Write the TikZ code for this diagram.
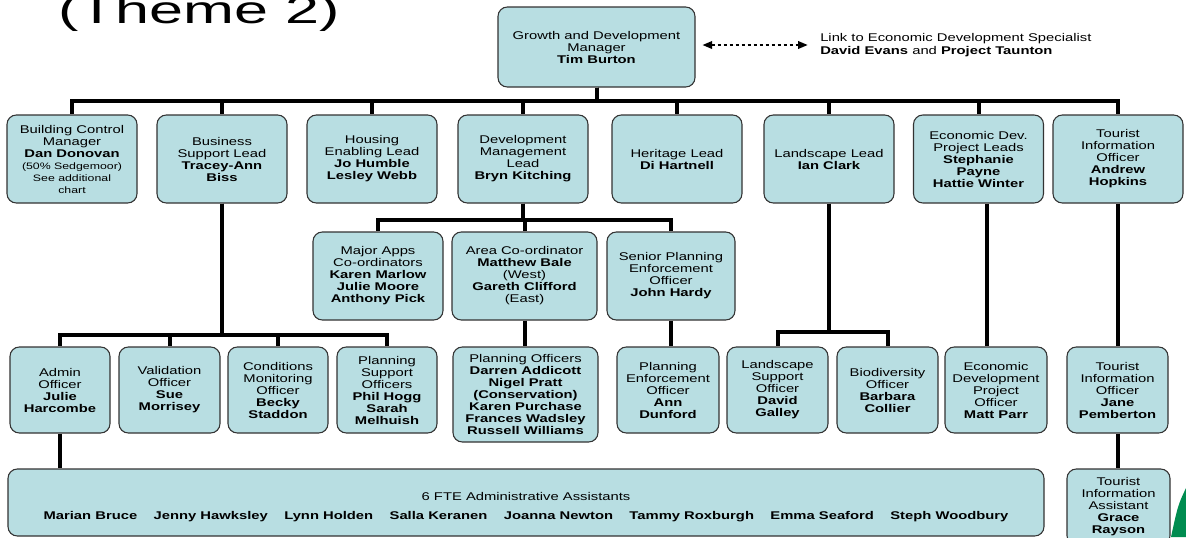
\documentclass[tikz,border=0pt]{standalone}
\usepackage{fontspec}
\setmainfont{Liberation Sans}
\newfontfamily\chartfont{Liberation Sans}[FakeStretch=1.32]
\newfontfamily\titlefont{Liberation Sans}[FakeStretch=1.58]
\usepackage{tikz}
\usetikzlibrary{arrows.meta, positioning}
\definecolor{boxfill}{RGB}{184,222,226}
\definecolor{logogreen}{RGB}{0,140,80}
\newcommand\smalltxt[1]{{\fontsize{7}{8}\selectfont #1}}

\begin{document}
\begin{tikzpicture}[x=0.75pt,y=-0.75pt,
        box/.style={draw=black!80,fill=boxfill,rounded corners=7pt,line width=0.8pt,
                    align=center,inner sep=1pt,font=\chartfont\fontsize{8.4}{9}\selectfont},
        boxw/.style={minimum width=#1*0.75pt},
        boxh/.style={minimum height=#1*0.75pt},
        lead/.style={box,boxw=130,boxh=88},
        team/.style={box,boxw=101,boxh=86},
        link/.style={line width=3pt},
        dotlink/.style={{Triangle[length=7.5pt,width=5.5pt]}-{Triangle[length=7.5pt,width=5.5pt]},
                    line width=2.2pt,dash pattern=on 2.5pt off 2pt}]

    \useasboundingbox (0,0) rectangle (1186,537);

    \node[anchor=base west,inner sep=0pt,font=\titlefont\fontsize{29}{30}\selectfont] (title) at (58,23) {(Theme 2)};

    % manager
    \node[box,boxw=197,boxh=80] (mgr) at (596.5,47) {Growth and Development\\Manager\\\textbf{Tim Burton}};
    \node[anchor=west,inner sep=0pt,align=left,font=\chartfont\fontsize{8.4}{10}\selectfont] (linktxt) at (820,45)
        {Link to Economic Development Specialist\\\textbf{David Evans} and \textbf{Project Taunton}};
    \draw[dotlink,shorten <=5pt,shorten >=9pt] (mgr.east |- linktxt.west) -- (linktxt.west);

    % leads
    \node[lead] (bcm) at (72,159) {Building Control\\Manager\\\textbf{Dan Donovan}\\\smalltxt{(50\% Sedgemoor)}\\\smalltxt{See additional}\\\smalltxt{chart}};
    \node[lead] (bsl) at (222,159) {Business\\Support Lead\\\textbf{Tracey-Ann}\\\textbf{Biss}};
    \node[lead] (hel) at (372,159) {Housing\\Enabling Lead\\\textbf{Jo Humble}\\\textbf{Lesley Webb}};
    \node[lead] (dml) at (523,159) {Development\\Management\\Lead\\\textbf{Bryn Kitching}};
    \node[lead] (hrl) at (677,159) {Heritage Lead\\\textbf{Di Hartnell}};
    \node[lead] (lsl) at (829,159) {Landscape Lead\\\textbf{Ian Clark}};
    \node[lead] (edl) at (978.5,159) {Economic Dev.\\Project Leads\\\textbf{Stephanie}\\\textbf{Payne}\\\textbf{Hattie Winter}};
    \node[lead] (tio) at (1118,159) {Tourist\\Information\\Officer\\\textbf{Andrew}\\\textbf{Hopkins}};

    % development management
    \node[lead] (mac) at (378,276) {Major Apps\\Co-ordinators\\\textbf{Karen Marlow}\\\textbf{Julie Moore}\\\textbf{Anthony Pick}};
    \node[lead,boxw=145] (aco) at (524.5,276) {Area Co-ordinator\\\textbf{Matthew Bale}\\(West)\\\textbf{Gareth Clifford}\\(East)};
    \node[lead,boxw=128] (spo) at (671,276) {Senior Planning\\Enforcement\\Officer\\\textbf{John Hardy}};

    % teams
    \node[team,boxw=100] (aof) at (60,390) {Admin\\Officer\\\textbf{Julie}\\\textbf{Harcombe}};
    \node[team] (vof) at (169.5,390) {Validation\\Officer\\\textbf{Sue}\\\textbf{Morrisey}};
    \node[team,boxw=100] (cmo) at (278,390) {Conditions\\Monitoring\\Officer\\\textbf{Becky}\\\textbf{Staddon}};
    \node[team,boxw=100] (pso) at (387,390) {Planning\\Support\\Officers\\\textbf{Phil Hogg}\\\textbf{Sarah}\\\textbf{Melhuish}};
    \node[team,boxw=145,boxh=95] (plo) at (525.5,394.5) {Planning Officers\\\textbf{Darren Addicott}\\\textbf{Nigel Pratt}\\\textbf{(Conservation)}\\\textbf{Karen Purchase}\\\textbf{Frances Wadsley}\\\textbf{Russell Williams}};
    \node[team,boxw=102] (peo) at (668,390) {Planning\\Enforcement\\Officer\\\textbf{Ann}\\\textbf{Dunford}};
    \node[team] (lso) at (777.5,390) {Landscape\\Support\\Officer\\\textbf{David}\\\textbf{Galley}};
    \node[team] (bdo) at (887.5,390) {Biodiversity\\Officer\\\textbf{Barbara}\\\textbf{Collier}};
    \node[team,boxw=102] (edo) at (996,390) {Economic\\Development\\Project\\Officer\\\textbf{Matt Parr}};
    \node[team] (tio2) at (1117.5,390) {Tourist\\Information\\Officer\\\textbf{Jane}\\\textbf{Pemberton}};

    % bottom row
    \node[box,boxw=1036,boxh=67] (aas) at (526,502.5) {\rule{0pt}{13pt}6 FTE Administrative Assistants\\[5pt]
        \textbf{Marian Bruce}\hspace{12.3pt}\textbf{Jenny Hawksley}\hspace{12.3pt}\textbf{Lynn Holden}\hspace{12.3pt}\textbf{Salla Keranen}\hspace{12.3pt}\textbf{Joanna Newton}\hspace{12.3pt}\textbf{Tammy Roxburgh}\hspace{12.3pt}\textbf{Emma Seaford}\hspace{12.3pt}\textbf{Steph Woodbury}};
    \node[box,boxw=103,boxh=76] (tia) at (1118.5,507) {Tourist\\Information\\Assistant\\\textbf{Grace}\\\textbf{Rayson}};

    \fill[logogreen] (1186,488) .. controls (1178,505) .. (1171,537) -- (1186,537) -- cycle;

    % connectors
    \coordinate (bus1) at (0,101);
    \coordinate (bus2) at (0,220);
    \coordinate (bus3) at (0,335);
    \coordinate (bus4) at (0,332);
    \foreach \c in {bcm,bsl,hel,dml,hrl,lsl,edl,tio}
        \draw[link] (mgr.south) -- (mgr.south |- bus1) -| (\c.north);
    \foreach \c in {mac,aco,spo}
        \draw[link] (dml.south) -- (dml.south |- bus2) -| (\c.north);
    \foreach \c in {aof,vof,cmo,pso}
        \draw[link] (bsl.south) -- (bsl.south |- bus3) -| (\c.north);
    \foreach \c in {lso,bdo}
        \draw[link] (lsl.south) -- (lsl.south |- bus4) -| (\c.north);
    \draw[link] (aco.south) -- (aco.south |- plo.north);
    \draw[link] (spo.south) -- (spo.south |- peo.north);
    \draw[link] ([xshift=6pt]edl.south) -- ([xshift=6pt]edl.south |- edo.north);
    \draw[link] (tio.south) -- (tio.south |- tio2.north);
    \draw[link] (tio2.south) -- (tio2.south |- tia.north);
    \draw[link] (aof.south) -- (aof.south |- aas.north);
\end{tikzpicture}
\end{document}
